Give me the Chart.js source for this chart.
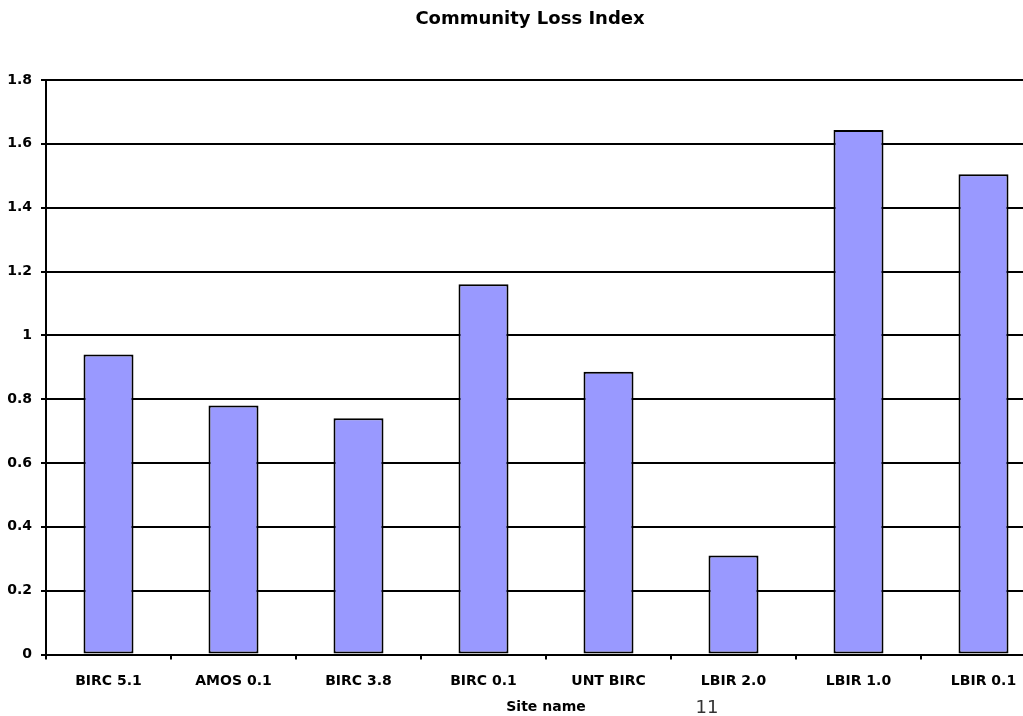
<!DOCTYPE html>
<html>
<head>
<meta charset="utf-8">
<script src="https://cdn.jsdelivr.net/npm/chart.js@4/dist/chart.umd.min.js"></script>
<style>
  html, body { margin: 0; padding: 0; background: #fff; overflow: hidden; }
  canvas { display: block; }
</style>
</head>
<body>
<canvas id="lossChart" width="1060" height="716"></canvas>
<script>
// 데이터
const sites = ['BIRC 5.1', 'AMOS 0.1', 'BIRC 3.8', 'BIRC 0.1', 'UNT BIRC', 'LBIR 2.0', 'LBIR 1.0', 'LBIR 0.1'];
const lossIndex = [0.94, 0.78, 0.74, 1.16, 0.886, 0.31, 1.643, 1.505];
const yTicks = [0, 0.2, 0.4, 0.6, 0.8, 1, 1.2, 1.4, 1.6, 1.8];
const pageNumber = '11';

const fontFamily = "'DejaVu Sans', Verdana, sans-serif";

// 페이지 번호 그리기
const pageNumberPlugin = {
    id: 'pageNumber',
    afterDraw: function (chart) {
        let ctx = chart.ctx;
        ctx.save();
        ctx.font = '18px ' + fontFamily;
        ctx.fillStyle = '#333';
        ctx.textAlign = 'center';
        ctx.textBaseline = 'middle';
        ctx.fillText(pageNumber, 707, 708);
        ctx.restore();
    }
};

let chart = new Chart(document.getElementById('lossChart').getContext('2d'), {
    type: 'bar',
    data: {
        labels: sites,
        datasets: [{
            data: lossIndex,
            backgroundColor: '#9999ff',
            borderColor: '#000',
            borderWidth: 2,
            borderSkipped: false,
            barPercentage: 0.4,
            categoryPercentage: 1.0
        }]
    },
    options: {
        responsive: false,
        animation: false,
        layout: { padding: 0 },
        plugins: {
            legend: { display: false },
            tooltip: { enabled: false },
            title: {
                display: true,
                text: 'Community Loss Index',
                color: '#000',
                font: { family: fontFamily, size: 18, weight: 'bold' },
                padding: { top: 9, bottom: 49.4 }
            }
        },
        scales: {
            x: {
                afterFit: function (scale) { scale.height = 61.5; },
                grid: {
                    display: true,
                    drawOnChartArea: false,
                    drawTicks: true,
                    tickLength: 5,
                    color: '#000',
                    lineWidth: 2,
                    offset: true
                },
                border: { display: true, color: '#000', width: 2 },
                ticks: {
                    color: '#000',
                    padding: 13,
                    maxRotation: 0,
                    autoSkip: false,
                    font: { family: fontFamily, size: 14, weight: 'bold' }
                },
                title: {
                    display: true,
                    text: 'Site name',
                    color: '#000',
                    padding: { top: 0, bottom: 0 },
                    font: { family: fontFamily, size: 14, weight: 'bold' }
                }
            },
            y: {
                min: yTicks[0],
                max: yTicks[yTicks.length - 1],
                afterFit: function (scale) { scale.width = 46; },
                afterBuildTicks: function (scale) {
                    scale.ticks = yTicks.map(v => ({ value: v }));
                },
                grid: {
                    color: '#000',
                    lineWidth: 2,
                    drawTicks: true,
                    tickLength: 5
                },
                border: { display: true, color: '#000', width: 2 },
                ticks: {
                    color: '#000',
                    padding: 9,
                    font: { family: fontFamily, size: 14, weight: 'bold' },
                    callback: function (v) { return String(Number(v.toFixed(1))); }
                }
            },
            // 오른쪽 여백용 빈 축 (제목은 캔버스 가운데에 유지)
            yRight: {
                position: 'right',
                min: yTicks[0],
                max: yTicks[yTicks.length - 1],
                afterFit: function (scale) { scale.width = 14; },
                grid: { display: false, drawTicks: false },
                border: { display: false },
                ticks: { display: false }
            }
        }
    },
    plugins: [pageNumberPlugin]
});
</script>
</body>
</html>
